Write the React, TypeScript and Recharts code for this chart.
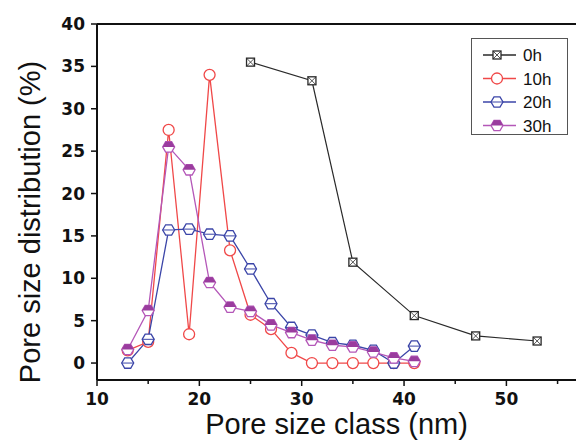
// Pore size distribution vs pore size class

import React from 'react';
import { LineChart, Line, XAxis, YAxis, ReferenceLine } from 'recharts';

const poreSizes = [13, 15, 17, 19, 21, 23, 25, 27, 29, 31, 33, 35, 37, 39, 41];
const sizes0h = [25, 31, 35, 41, 47, 53];
const values0h = [35.5, 33.3, 11.9, 5.6, 3.2, 2.6];
const values10h = [1.5, 2.5, 27.5, 3.4, 34.0, 13.3, 5.7, 4.0, 1.2, 0, 0, 0, 0, 0, 0];
const values20h = [0, 2.8, 15.7, 15.8, 15.2, 15.0, 11.1, 7.0, 4.2, 3.3, 2.4, 2.1, 1.5, 0, 2.0];
const values30h = [1.6, 6.2, 25.5, 22.8, 9.5, 6.6, 6.1, 4.5, 3.6, 2.7, 2.1, 1.9, 1.3, 0.6, 0.2];
const seriesNames = ['0h', '10h', '20h', '30h'];
const seriesColors = ['#2a2a2a', '#f04848', '#3b45a8', '#b457b8'];
const xTicks = [10, 15, 20, 25, 30, 35, 40, 45, 50, 55];
const yTicks = [0, 2.5, 5, 7.5, 10, 12.5, 15, 17.5, 20, 22.5, 25, 27.5, 30, 32.5, 35, 37.5, 40];

const toPoints = (xs: number[], ys: number[]) => xs.map((x, i) => ({ x, y: ys[i] }));
const data0h = toPoints(sizes0h, values0h);
const data10h = toPoints(poreSizes, values10h);
const data20h = toPoints(poreSizes, values20h);
const data30h = toPoints(poreSizes, values30h);

const tickFont = 'DejaVu Sans, Liberation Sans, Arial, sans-serif';

const hexPoints = (cx: number, cy: number, r: number) => {
  const pts: string[] = [];
  for (let i = 0; i < 6; i++) {
    const a = (Math.PI / 3) * i;
    pts.push(`${cx + r * Math.cos(a)},${cy + r * Math.sin(a)}`);
  }
  return pts.join(' ');
};

function Marker({ kind, cx, cy }: { kind: number; cx: number; cy: number }) {
  const c = seriesColors[kind];
  if (kind === 0) {
    const s = 4;
    return (
      <g>
        <rect x={cx - s} y={cy - s} width={s * 2} height={s * 2} fill="#fff" stroke={c} strokeWidth={1.3} />
        <path d={`M${cx - s} ${cy - s}L${cx + s} ${cy + s}M${cx + s} ${cy - s}L${cx - s} ${cy + s}`} stroke={c} strokeWidth={0.8} />
      </g>
    );
  }
  if (kind === 1) {
    return <circle cx={cx} cy={cy} r={5.5} fill="#fff" stroke={c} strokeWidth={1.3} />;
  }
  if (kind === 2) {
    return (
      <g>
        <polygon points={hexPoints(cx, cy, 6)} fill="#fff" stroke={c} strokeWidth={1.3} />
        <line x1={cx - 6} y1={cy} x2={cx + 6} y2={cy} stroke={c} strokeWidth={1} />
      </g>
    );
  }
  return (
    <g>
      <polygon points={hexPoints(cx, cy, 6)} fill="#fff" stroke={c} strokeWidth={1.3} />
      <path d={`M${cx - 6} ${cy}L${cx - 3} ${cy - 5.2}L${cx + 3} ${cy - 5.2}L${cx + 6} ${cy}Z`} fill="#9a3c9e" />
    </g>
  );
}

const makeDot = (kind: number) => (props: any) => (
  <Marker key={`dot-${kind}-${props.index}`} kind={kind} cx={props.cx} cy={props.cy} />
);

const XTick = ({ x, y, payload }: any) => {
  const major = payload.value % 10 === 0;
  return (
    <g>
      <line x1={x} y1={y} x2={x} y2={y + (major ? 6 : 4)} stroke="#111" strokeWidth={1.5} />
      {major && (
        <text x={x} y={y + 25} textAnchor="middle" fontSize={17} fontWeight="bold" fill="#111" fontFamily={tickFont}>
          {payload.value}
        </text>
      )}
    </g>
  );
};

const YTick = ({ x, y, payload }: any) => {
  const major = payload.value % 5 === 0;
  return (
    <g>
      <line x1={x} y1={y} x2={x - (major ? 6 : 4)} y2={y} stroke="#111" strokeWidth={1.5} />
      {major && (
        <text x={x - 12} y={y + 6} textAnchor="end" fontSize={17} fontWeight="bold" fill="#111" fontFamily={tickFont}>
          {payload.value}
        </text>
      )}
    </g>
  );
};

const XLabel = ({ viewBox }: any) => (
  <text x={viewBox.x + viewBox.width / 2} y={viewBox.y + 54} textAnchor="middle" fontSize={29} fill="#111">
    Pore size class (nm)
  </text>
);

const YLabel = ({ viewBox }: any) => {
  const cx = viewBox.x + 30;
  const cy = viewBox.y + viewBox.height / 2 + 20;
  return (
    <text x={cx} y={cy} transform={`rotate(-90 ${cx} ${cy})`} textAnchor="middle" dominantBaseline="central" fontSize={29} fill="#111">
      Pore size distribution (%)
    </text>
  );
};

function LegendBox() {
  return (
    <div style={{ position: 'absolute', left: 471, top: 38, width: 97, height: 97, border: '1px solid #555', boxSizing: 'border-box', background: '#fff' }}>
      <svg width={95} height={95} style={{ display: 'block' }}>
        {seriesNames.map((name, i) => {
          const cy = 16 + i * 23.5;
          return (
            <g key={name}>
              <line x1={11} y1={cy} x2={44} y2={cy} stroke={seriesColors[i]} strokeWidth={1.3} />
              <Marker kind={i} cx={25} cy={cy} />
              <text x={51} y={cy + 6} fontSize={17} fill="#111">
                {name}
              </text>
            </g>
          );
        })}
      </svg>
    </div>
  );
}

export default function App() {
  return (
    <div style={{ position: 'absolute', left: 0, top: 0, width: 576, height: 440, background: '#fff', fontFamily: 'Liberation Sans, Arial, sans-serif' }}>
      <LineChart width={576} height={440} margin={{ top: 24, right: 0, bottom: 0, left: 0 }}>
        <XAxis
          type="number"
          dataKey="x"
          domain={[10, 56.8]}
          ticks={xTicks}
          allowDataOverflow
          height={60}
          tickSize={0}
          tickMargin={0}
          tickLine={false}
          tick={<XTick />}
          axisLine={{ stroke: '#111', strokeWidth: 2 }}
          label={<XLabel />}
        />
        <YAxis
          type="number"
          dataKey="y"
          domain={[-2, 40]}
          ticks={yTicks}
          allowDataOverflow
          width={97}
          tickSize={0}
          tickMargin={0}
          tickLine={false}
          tick={<YTick />}
          axisLine={{ stroke: '#111', strokeWidth: 2 }}
          label={<YLabel />}
        />
        <ReferenceLine y={40} stroke="#111" strokeWidth={2} />
        <Line data={data0h} dataKey="y" name="0h" stroke={seriesColors[0]} strokeWidth={1.2} dot={makeDot(0)} isAnimationActive={false} />
        <Line data={data10h} dataKey="y" name="10h" stroke={seriesColors[1]} strokeWidth={1.3} dot={makeDot(1)} isAnimationActive={false} />
        <Line data={data20h} dataKey="y" name="20h" stroke={seriesColors[2]} strokeWidth={1.3} dot={makeDot(2)} isAnimationActive={false} />
        <Line data={data30h} dataKey="y" name="30h" stroke={seriesColors[3]} strokeWidth={1.3} dot={makeDot(3)} isAnimationActive={false} />
      </LineChart>
      <LegendBox />
    </div>
  );
}
